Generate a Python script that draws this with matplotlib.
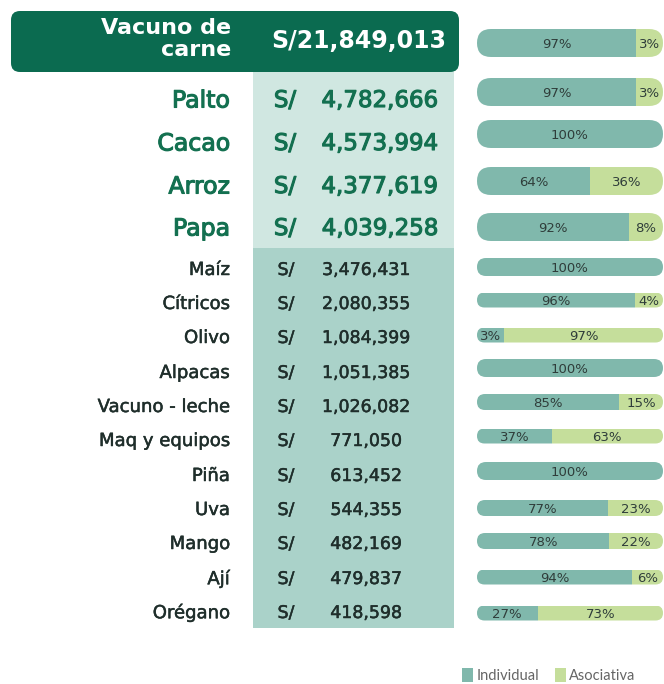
import matplotlib
matplotlib.use("Agg")
import matplotlib.pyplot as plt
from matplotlib.patches import FancyBboxPatch, Rectangle
import matplotlib.patheffects as pe

# ---------------- data ----------------
categories = ["Vacuno de\ncarne", "Palto", "Cacao", "Arroz", "Papa", "Maíz", "Cítricos",
              "Olivo", "Alpacas", "Vacuno - leche", "Maq y equipos", "Piña", "Uva",
              "Mango", "Ají", "Orégano"]
amounts = [21849013, 4782666, 4573994, 4377619, 4039258, 3476431, 2080355, 1084399,
           1051385, 1026082, 771050, 613452, 544355, 482169, 479837, 418598]
individual = [97, 97, 100, 64, 92, 100, 96, 3, 100, 85, 37, 100, 77, 78, 94, 27]
asociativa = [3, 3, 0, 36, 8, 0, 4, 97, 0, 15, 63, 0, 23, 22, 6, 73]
legend_labels = ["Individual", "Asociativa"]

# ---------------- layout / style ----------------
W, H = 664, 684
label_y = [39, 98, 141, 184, 226, 268, 302, 336, 371, 405, 439, 474, 508, 542, 577, 611]
bar_y = [43, 92, 134, 181, 227, 267, 300, 335, 368, 402, 436, 471, 508, 541, 577, 613]
bar_h = [28, 28, 28, 28, 28, 18, 15, 15, 18, 16, 15, 18, 16, 16, 15, 15]
CAP = 16  # rounded end-cap length added to each end of the bar (in % units)

C_DARK = "#0b6b50"
C_GREEN_TXT = "#137050"
C_LIGHT_BAND = "#d0e7e1"
C_BAND = "#aad2c9"
C_IND = "#80b8ac"
C_ASO = "#c5de9b"
C_TXT = "#1f2e2b"
C_BAR_TXT = "#2f3d3a"

fig = plt.figure(figsize=(W / 100, H / 100), dpi=100)
ax = fig.add_axes([0, 0, 1, 1])
ax.set_xlim(0, W)
ax.set_ylim(H, 0)
ax.axis("off")

# bands behind the amounts
ax.add_patch(Rectangle((253, 70), 201, 178, facecolor=C_LIGHT_BAND, edgecolor="none", zorder=0))
ax.add_patch(Rectangle((253, 248), 201, 380, facecolor=C_BAND, edgecolor="none", zorder=0))
# header box
ax.add_patch(FancyBboxPatch((11, 11), 448, 61, boxstyle="round,pad=0,rounding_size=9",
                            facecolor=C_DARK, edgecolor="none", zorder=1))

semi_top = [pe.withStroke(linewidth=0.8, foreground=C_GREEN_TXT)]
semi_low = [pe.withStroke(linewidth=0.35, foreground=C_TXT)]

for i, (cat, amt) in enumerate(zip(categories, amounts)):
    y = label_y[i]
    s = f"{amt:,}"
    if i == 0:
        ax.text(231, y, cat, ha="right", va="center", color="white", fontsize=16,
                fontweight="bold", linespacing=1.15, zorder=2)
        ax.text(446, y - 1, "S/" + s, ha="right", va="center_baseline", color="white",
                fontsize=17, fontweight="bold", zorder=2)
    elif i < 5:
        ax.text(230, y, cat, ha="right", va="center_baseline", color=C_GREEN_TXT,
                fontsize=17, zorder=2, path_effects=semi_top)
        ax.text(285, y, "S/", ha="center", va="center_baseline", color=C_GREEN_TXT,
                fontsize=16.5, zorder=2, path_effects=semi_top)
        ax.text(438, y, s, ha="right", va="center_baseline", color=C_GREEN_TXT,
                fontsize=16.5, zorder=2, path_effects=semi_top)
    else:
        ax.text(230, y, cat, ha="right", va="center_baseline", color=C_TXT,
                fontsize=13, zorder=2, path_effects=semi_low)
        ax.text(286, y, "S/", ha="center", va="center_baseline", color=C_TXT,
                fontsize=12.5, zorder=2, path_effects=semi_low)
        ax.text(366, y, s, ha="center", va="center_baseline", color=C_TXT,
                fontsize=12.5, zorder=2, path_effects=semi_low)

# ---------------- stacked bars ----------------
x0, x1 = 477, 663
bx = fig.add_axes([x0 / W, 0, (x1 - x0) / W, 1])
bx.set_xlim(-CAP, 100 + CAP)
bx.set_ylim(H, 0)
bx.axis("off")
units_per_px = (100 + 2 * CAP) / (x1 - x0)

for i in range(len(categories)):
    y, h = bar_y[i], bar_h[i]
    ind, aso = individual[i], asociativa[i]
    clip = FancyBboxPatch((-CAP, y - h / 2), 100 + 2 * CAP, h,
                          boxstyle=f"round,pad=0,rounding_size={h / 2 * units_per_px}",
                          mutation_aspect=1 / units_per_px,
                          facecolor="none", edgecolor="none", transform=bx.transData)
    bx.add_patch(clip)
    segs = []
    if ind > 0:
        w1 = ind + CAP + (CAP if aso == 0 else 0)
        segs.append((-CAP, w1, C_IND, ind))
    if aso > 0:
        l2 = ind if ind > 0 else -CAP
        w2 = aso + CAP + (CAP if ind == 0 else 0)
        segs.append((l2, w2, C_ASO, aso))
    for left, width, col, val in segs:
        b = bx.barh(y, width, height=h, left=left, color=col, edgecolor="none")
        for r in b:
            r.set_clip_path(clip)
        bx.text(left + width / 2, y + 1.5, f"{val}%", ha="center", va="center",
                color=C_BAR_TXT, fontsize=9.5)

# ---------------- legend ----------------
ax.add_patch(Rectangle((462, 668), 11, 14, facecolor=C_IND, edgecolor="none"))
ax.text(477, 676, legend_labels[0], ha="left", va="center", color="#666666", fontsize=10.5,
        family=["Lato", "DejaVu Sans"])
ax.add_patch(Rectangle((555, 668), 11, 14, facecolor=C_ASO, edgecolor="none"))
ax.text(569, 676, legend_labels[1], ha="left", va="center", color="#666666", fontsize=10.5,
        family=["Lato", "DejaVu Sans"])

fig.savefig("out.png", dpi=100)
